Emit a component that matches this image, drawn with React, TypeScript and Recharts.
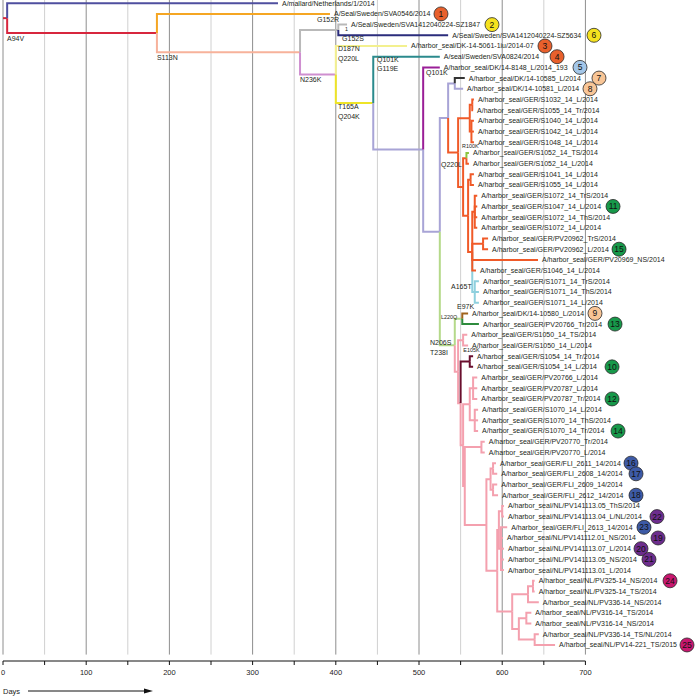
import React from 'react';
import { ComposedChart, Line, Scatter, XAxis, YAxis } from 'recharts';

const FONT = '"Liberation Sans", Arial, sans-serif';

// ---------- DATA ----------
const leafNames = [
  'A/mallard/Netherlands/1/2014',
  'A/Seal/Sweden/SVA0546/2014',
  'A/Seal/Sweden/SVA1412040224-SZ1847',
  'A/Seal/Sweden/SVA1412040224-SZ5634',
  'A/harbor_seal/DK-14-5061-1iu/2014-07',
  'A/seal/Sweden/SVA0824/2014',
  'A/harbor_seal/DK/14-8148_L/2014_193',
  'A/harbor_seal/DK/14-10585_L/2014',
  'A/harbor_seal/DK/14-10581_L/2014',
  'A/harbor_seal/GER/S1032_14_L/2014',
  'A/harbor_seal/GER/S1055_14_Tr/2014',
  'A/harbor_seal/GER/S1040_14_L/2014',
  'A/harbor_seal/GER/S1042_14_L/2014',
  'A/harbor_seal/GER/S1048_14_L/2014',
  'A/harbor_seal/GER/S1052_14_TS/2014',
  'A/harbor_seal/GER/S1052_14_L/2014',
  'A/harbor_seal/GER/S1041_14_L/2014',
  'A/harbor_seal/GER/S1055_14_L/2014',
  'A/harbor_seal/GER/S1072_14_TrS/2014',
  'A/harbor_seal/GER/S1047_14_L/2014',
  'A/harbor_seal/GER/S1072_14_ThS/2014',
  'A/harbor_seal/GER/S1072_14_L/2014',
  'A/harbor_seal/GER/PV20962_TrS/2014',
  'A/harbor_seal/GER/PV20962_L/2014',
  'A/harbor_seal/GER/PV20969_NS/2014',
  'A/harbor_seal/GER/S1046_14_L/2014',
  'A/harbor_seal/GER/S1071_14_TrS/2014',
  'A/harbor_seal/GER/S1071_14_ThS/2014',
  'A/harbor_seal/GER/S1071_14_L/2014',
  'A/harbor_seal/DK/14-10580_L/2014',
  'A/harbor_seal/GER/PV20766_Tr/2014',
  'A/harbor_seal/GER/S1050_14_TS/2014',
  'A/harbor_seal/GER/S1050_14_L/2014',
  'A/harbor_seal/GER/S1054_14_Tr/2014',
  'A/harbor_seal/GER/S1054_14_L/2014',
  'A/harbor_seal/GER/PV20766_L/2014',
  'A/harbor_seal/GER/PV20787_L/2014',
  'A/harbor_seal/GER/PV20787_Tr/2014',
  'A/harbor_seal/GER/S1070_14_L/2014',
  'A/harbor_seal/GER/S1070_14_ThS/2014',
  'A/harbor_seal/GER/S1070_14_Tr/2014',
  'A/harbor_seal/GER/PV20770_Tr/2014',
  'A/harbor_seal/GER/PV20770_L/2014',
  'A/harbor_seal/GER/FLI_2611_14/2014',
  'A/harbor_seal/GER/FLI_2608_14/2014',
  'A/harbor_seal/GER/FLI_2609_14/2014',
  'A/harbor_seal/GER/FLI_2612_14/2014',
  'A/harbor_seal/NL/PV141113.05_ThS/2014',
  'A/harbor_seal/NL/PV141113.04_L/NL/2014',
  'A/harbor_seal/GER/FLI_2613_14/2014',
  'A/harbor_seal/NL/PV141112.01_NS/2014',
  'A/harbor_seal/NL/PV141113.07_L/2014',
  'A/harbor_seal/NL/PV141113.05_NS/2014',
  'A/harbor_seal/NL/PV141113.01_L/2014',
  'A/harbor_seal/NL/PV325-14_NS/2014',
  'A/harbor_seal/NL/PV325-14_TS/2014',
  'A/harbor_seal/NL/PV336-14_NS/2014',
  'A/harbor_seal/NL/PV316-14_TS/2014',
  'A/harbor_seal/NL/PV316-14_NS/2014',
  'A/harbor_seal/NL/PV336-14_TS/NL/2014',
  'A/harbor_seal/NL/PV14-221_TS/2015',
];

const leafTipDays = [
  330.5, 393, 413.5, 535, 485.6, 525, 525, 555, 553,
  566, 565, 566, 566, 566, 560, 560, 566, 566,
  570, 570, 570, 570, 583, 583, 643, 568.5, 572, 572, 572,
  559, 572, 558, 559, 565, 565, 570, 570, 570, 571, 571, 571,
  579, 579, 592.5, 594, 594, 595, 602, 602, 606, 601, 602, 602, 602,
  639, 639, 644, 635, 635, 644, 663.5,
];

const leafParents = [
  'root', 'N1', 'N3', 'N3', 'N4', 'N5', 'N6', 'N9', 'N9',
  'A1', 'A1', 'A2', 'A2', 'A2', 'C', 'C', 'I', 'I',
  'F', 'F', 'F', 'F', 'H', 'H', 'E', 'E', 'G', 'G', 'G',
  'L', 'L', 'Q1', 'Q1', 'Q2', 'Q2', 'Q3a', 'Q3a', 'Q3a', 'Q3b', 'Q3b', 'Q3b',
  'Q4', 'Q4', 'Q5a', 'Q5a', 'Q5b', 'Q5b', 'Q6a', 'Q6a', 'Q6b', 'Q6b', 'Q6b', 'Q6b', 'Q6b',
  'Q7a', 'Q7a', 'Q7', 'Q8a', 'Q8a', 'Q8b', 'Q8b',
];

const nodeIds = [
  'root', 'N1', 'N2', 'N3', 'N4', 'N5', 'N6', 'N7', 'N8', 'N9', 'N10',
  'A', 'A1', 'A2', 'B', 'C', 'D', 'I', 'E', 'F', 'H', 'G',
  'NK', 'L', 'P1', 'Q1', 'P2', 'Q2', 'P3', 'Q3', 'Q3a', 'Q3b',
  'P4', 'Q4', 'P5', 'Q5', 'Q5a', 'Q5b', 'P6', 'Q6', 'Q6a', 'Q6b',
  'P7', 'Q7', 'Q7a', 'Q8', 'Q8a', 'Q8b',
];
const nodeParents: (string | null)[] = [
  null, 'root', 'N1', 'N2', 'N2', 'N4', 'N5', 'N6', 'N7', 'N8', 'N8',
  'N10', 'A', 'A', 'N10', 'B', 'B', 'D', 'D', 'E', 'E', 'E',
  'N7', 'NK', 'NK', 'P1', 'P1', 'P2', 'P2', 'P3', 'Q3', 'Q3',
  'P3', 'P4', 'P4', 'P5', 'Q5', 'Q5', 'P5', 'P6', 'Q6', 'Q6',
  'P6', 'P7', 'Q7', 'P7', 'Q8', 'Q8',
];
const nodeDays = [
  5, 185, 357, 403, 400, 445, 505, 525, 535, 543, 547,
  561, 564, 563, 553, 557, 559, 562, 564, 567, 577, 567,
  543, 552, 547, 553, 550, 561, 553, 561, 565, 567,
  555, 575, 581, 586, 589, 589, 594, 596, 600, 598.5,
  612, 631, 637, 620, 629, 639,
];

// location badges
const badgeLeaf = [1, 2, 3, 4, 5, 6, 7, 8, 19, 23, 29, 30, 34, 37, 40, 43, 44, 46, 48, 49, 50, 51, 52, 54, 60];
const badgeNumbers = [1, 2, 6, 3, 4, 5, 7, 8, 11, 15, 9, 13, 10, 12, 14, 16, 17, 18, 22, 23, 19, 20, 21, 24, 25];
const badgeDays = [526.4, 587.7, 710.3, 651.4, 665.9, 693.5, 716.3, 705.5, 733.2, 740.4, 711.5, 735.6, 732, 732, 739.2, 754.8, 760.8, 760.8, 786, 770.4, 787.3, 766.8, 776.4, 801.7, 822.1];
const badgeGroups = ['SE1', 'SE2', 'SE2', 'SE1', 'SE1', 'DK1', 'DK2', 'DK2', 'GER', 'GER', 'DK2', 'GER', 'GER', 'GER', 'GER', 'FLI', 'FLI', 'FLI', 'NL', 'FLI', 'NL', 'NL', 'NL', 'NL2', 'NL2'];

// mutation annotations
const mutationTexts = ['A94V', 'S113N', 'G152R', '1', 'G152S', 'D187N', 'Q220L', 'N236K', 'T165A', 'Q204K', 'Q101K', 'G119E', 'Q101K', 'Q220L', 'R100K', 'A165T', 'E97K', 'L220Q', 'N206S', 'T238I', 'E105K'];
const mutationDays = [4.8, 185, 377.4, 411, 407.5, 402.6, 402.6, 357, 402.6, 402.6, 449.5, 449.5, 508.4, 526.4, 551.7, 538.5, 545.7, 526.4, 513.2, 513.2, 553.3];
const mutationRows = [3.35, 5.12, 1.57, 2.41, 3.35, 4.28, 5.2, 7.18, 9.7, 10.64, 5.3, 6.15, 6.5, 15.13, 13.35, 26.53, 28.4, 29.34, 31.77, 32.7, 32.48];
const mutationSmall = [false, false, false, true, false, false, false, false, false, false, false, false, false, false, true, false, false, true, false, false, true];

const axisTicks = [0, 50, 100, 150, 200, 250, 300, 350, 400, 450, 500, 550, 600, 650, 700];

// ---------- STYLES ----------
const PAL: Record<string, string> = {
  red: '#d7263d', mallard: '#4f4f9f', amber: '#f5a623', salmon: '#f7b29b', gray: '#b9b9b9',
  navy: '#2b2d7c', orchid: '#cf8fd0', paleYellow: '#f3f08f', yellow: '#eee427', teal: '#2b8a8d',
  lavender: '#a8a4d6', magenta: '#9a1e97', black: '#333333', orange: '#f05a28', lime: '#8cc63f',
  lightblue: '#8fd0de', lightgreen: '#b5d98a', brown: '#a0631c', darkgreen: '#2e8b3d',
  pink: '#f4a0ae', maroon: '#6a0f2e',
};
const leafColorKeys = [
  'mallard', 'amber', 'gray', 'navy', 'paleYellow', 'teal', 'magenta', 'black', 'lavender',
  'orange', 'orange', 'orange', 'orange', 'orange', 'lime', 'orange', 'orange', 'orange',
  'orange', 'orange', 'orange', 'orange', 'orange', 'orange', 'orange', 'orange', 'lightblue', 'lightblue', 'lightblue',
  'brown', 'darkgreen', 'pink', 'pink', 'maroon', 'maroon',
  ...Array(26).fill('pink'),
];
const nodeColorKeys: Record<string, string> = {
  root: 'red', N1: 'red', N2: 'salmon', N3: 'gray', N4: 'orchid', N5: 'yellow', N6: 'lavender',
  N7: 'lavender', N8: 'lavender', N9: 'lavender', G: 'lightblue', NK: 'lightgreen', L: 'lightgreen',
  Q2: 'maroon',
};
const nodeColor = (id: string) => {
  if (nodeColorKeys[id]) return PAL[nodeColorKeys[id]];
  if (['N10', 'A', 'A1', 'A2', 'B', 'C', 'D', 'I', 'E', 'F', 'H'].includes(id)) return PAL.orange;
  return PAL.pink;
};
const badgeFill: Record<string, string> = {
  SE1: '#e8602c', SE2: '#f5e21f', DK1: '#a3c6e8', DK2: '#f8c596', GER: '#17994a',
  FLI: '#3d5aa6', NL: '#6d2d8d', NL2: '#c8176f',
};

// ---------- TREE LAYOUT ----------
type Kid = { leaf: boolean; key: string | number };
const kids: Record<string, Kid[]> = {};
leafParents.forEach((p, i) => { (kids[p] = kids[p] || []).push({ leaf: true, key: i }); });
nodeIds.forEach((id, i) => { const p = nodeParents[i]; if (p) (kids[p] = kids[p] || []).push({ leaf: false, key: id }); });
const dayOf: Record<string, number> = {};
nodeIds.forEach((id, i) => { dayOf[id] = nodeDays[i]; });
const rowMemo: Record<string, number> = {};
function nodeRow(id: string): number {
  if (rowMemo[id] !== undefined) return rowMemo[id];
  const rows = kids[id].map((k) => (k.leaf ? (k.key as number) : nodeRow(k.key as string)));
  rowMemo[id] = (Math.min(...rows) + Math.max(...rows)) / 2;
  return rowMemo[id];
}

type Edge = { key: string; color: string; pts: { x: number; y: number }[] };
const edges: Edge[] = [];
nodeIds.forEach((id, i) => {
  const p = nodeParents[i];
  const r = nodeRow(id);
  if (!p) {
    edges.push({ key: 'stub', color: nodeColor(id), pts: [{ x: 0, y: r }, { x: dayOf[id], y: r }] });
  } else {
    edges.push({ key: 'n-' + id, color: nodeColor(id), pts: [{ x: dayOf[p], y: nodeRow(p) }, { x: dayOf[p], y: r }, { x: dayOf[id], y: r }] });
  }
});
leafNames.forEach((_, i) => {
  const p = leafParents[i];
  edges.push({ key: 'l-' + i, color: PAL[leafColorKeys[i]], pts: [{ x: dayOf[p], y: nodeRow(p) }, { x: dayOf[p], y: i }, { x: leafTipDays[i], y: i }] });
});

const gridLines = axisTicks.map((t) => ({ t, major: t % 100 === 0, pts: [{ x: t, y: -0.3 }, { x: t, y: 60.9 }] }));
const baseline = [{ x: 0, y: 61.5 }, { x: 700, y: 61.5 }];

const leafPoints = leafNames.map((name, i) => ({ x: leafTipDays[i], y: i, name }));
const badgePoints = badgeLeaf.map((li, i) => ({ x: badgeDays[i], y: li, n: badgeNumbers[i], g: badgeGroups[i] }));
const mutationPoints = mutationTexts.map((t, i) => ({ x: mutationDays[i], y: mutationRows[i], t, small: mutationSmall[i] }));

// ---------- RENDERERS ----------
const LeafLabel = (p: any) => (
  <text x={p.cx + 4} y={p.cy} dy="0.35em" fontSize={7} fontFamily={FONT} fill="#231f20">{p.payload.name}</text>
);
const Badge = (p: any) => (
  <g>
    <circle cx={p.cx} cy={p.cy} r={7} fill={badgeFill[p.payload.g]} stroke="#2a2a2a" strokeWidth={0.8} />
    <text x={p.cx} y={p.cy} dy="0.35em" textAnchor="middle" fontSize={8.5} fontFamily={FONT} fill="#111">{p.payload.n}</text>
  </g>
);
const MutLabel = (p: any) => (
  <text x={p.cx} y={p.cy} dy="0.35em" fontSize={p.payload.small ? 5.4 : 7} fontFamily={FONT} fill="#231f20">{p.payload.t}</text>
);
const renderDays = (props: any) => {
  const vb = props.viewBox || {};
  const x0 = vb.x ?? 3;
  const y0 = (vb.y ?? 661) + 30;
  return (
    <g>
      <text x={x0} y={y0} dy="0.35em" fontSize={7.5} fontFamily={FONT} fill="#222">Days</text>
      <line x1={x0 + 25} y1={y0} x2={x0 + 142} y2={y0} stroke="#111" strokeWidth={1} />
      <polygon points={`${x0 + 150},${y0} ${x0 + 141},${y0 - 2.6} ${x0 + 141},${y0 + 2.6}`} fill="#111" />
    </g>
  );
};

export default function App() {
  return (
    <div style={{ position: 'absolute', left: 0, top: 0, width: 696, height: 698, background: '#fff' }}>
      <ComposedChart width={696} height={698} margin={{ top: 0, right: 2, bottom: 7, left: 3 }}>
        <XAxis
          type="number"
          dataKey="x"
          domain={[0, 830.5]}
          ticks={axisTicks}
          interval={0}
          tickFormatter={(v: number) => (v % 100 === 0 ? String(v) : '')}
          axisLine={false}
          tickLine={{ stroke: '#111', strokeWidth: 1 }}
          tickSize={4}
          tickMargin={5}
          tick={{ fontSize: 7.5, fill: '#222', fontFamily: FONT }}
          height={30}
          label={renderDays}
        />
        <YAxis type="number" dataKey="y" domain={[-0.3, 61.5]} reversed hide />
        {gridLines.map((g) => (
          <Line key={'g' + g.t} data={g.pts} dataKey="y" stroke={g.major ? '#8e8e8e' : '#d0d0d0'} strokeWidth={1}
            dot={false} activeDot={false} isAnimationActive={false} legendType="none" />
        ))}
        <Line key="baseline" data={baseline} dataKey="y" stroke="#111" strokeWidth={1} dot={false} activeDot={false} isAnimationActive={false} legendType="none" />
        {edges.map((e) => (
          <Line key={e.key} data={e.pts} dataKey="y" stroke={e.color} strokeWidth={2} strokeLinejoin="miter" strokeLinecap="butt"
            dot={false} activeDot={false} isAnimationActive={false} legendType="none" />
        ))}
        <Scatter data={leafPoints} shape={LeafLabel} isAnimationActive={false} legendType="none" />
        <Scatter data={mutationPoints} shape={MutLabel} isAnimationActive={false} legendType="none" />
        <Scatter data={badgePoints} shape={Badge} isAnimationActive={false} legendType="none" />
      </ComposedChart>
    </div>
  );
}
